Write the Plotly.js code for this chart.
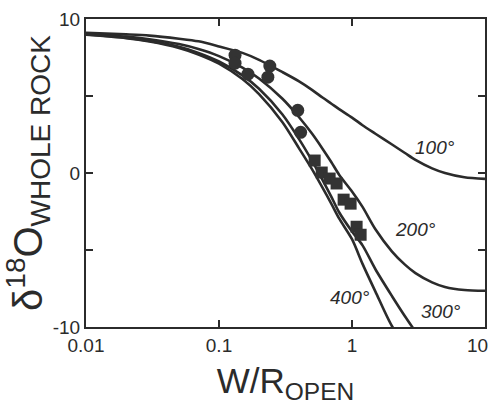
<!DOCTYPE html>
<html><head><meta charset="utf-8">
<script src="https://cdn.plot.ly/plotly-3.0.1.min.js"></script>
<style>html,body{margin:0;padding:0;background:#fff;}#chart{width:492px;height:405px;}</style>
</head><body><div id="chart"></div>
<script>
// W/R (open system) sample positions
const wr   = [0.01,0.02,0.03,0.05,0.07,0.1,0.15,0.2,0.3,0.4,0.5,0.6,0.7,0.8,1,1.2,1.5,2,2.5,3,4,5,7,10];
// delta18O whole rock curves at each temperature
const d100 = [9.10,9.00,8.92,8.72,8.55,8.22,7.80,7.35,6.55,5.95,5.40,4.90,4.50,4.15,3.60,3.10,2.55,1.85,1.30,0.85,0.30,0.00,-0.28,-0.38];
const d200 = [9.03,8.86,8.69,8.37,8.05,7.59,6.85,6.14,4.82,3.62,2.56,1.58,0.70,-0.11,-1.20,-2.20,-3.65,-5.10,-5.95,-6.50,-7.10,-7.40,-7.60,-7.65];
const d300 = [8.99,8.79,8.58,8.19,7.80,7.24,6.34,5.47,3.80,2.20,0.80,-0.45,-1.55,-2.55,-3.80,-4.70,-6.25,-8.00,-9.30,-10.3];
const d400 = [8.98,8.76,8.54,8.12,7.70,7.10,6.10,5.12,3.30,1.60,0.25,-0.95,-2.00,-2.95,-4.30,-5.90,-7.70,-9.95,-11.1];
// measured samples
const circleX = [0.132,0.132,0.165,0.241,0.233,0.391,0.411];
const circleY = [7.65,7.13,6.42,6.94,6.22,4.07,2.64];
const squareX = [0.524,0.592,0.679,0.766,0.865,0.976,1.083,1.161];
const squareY = [0.81,0.03,-0.36,-0.68,-1.73,-1.99,-3.49,-4.01];
const curveNames = ['100°','200°','300°','400°'];
const xTickVals = [0.01,0.1,1];
const xTickText = ['0.01','0.1','1'];
const xEndLabel = '10';
const yTickVals = [-10,0,10];
const yTickText = ['-10','0','10'];
const yMinorVals = [-5,5];

const ink = '#2b2b2b';
const curves = [d100,d200,d300,d400];
const traces = curves.map((d,i)=>({
  x: wr.slice(0,d.length), y: d, type:'scatter', mode:'lines', name: curveNames[i],
  line:{color:ink,width:2.6,shape:'spline',smoothing:0.8}, hoverinfo:'skip'
}));
traces.push({x:circleX,y:circleY,type:'scatter',mode:'markers',name:'circles',
  marker:{symbol:'circle',size:13,color:'#333'}});
traces.push({x:squareX,y:squareY,type:'scatter',mode:'markers',name:'squares',
  marker:{symbol:'square',size:12,color:'#333'}});

const labelPos = [[0.875,0.584],[0.827,0.315],[0.890,0.049],[0.662,0.097]];
const annotations = curveNames.map((t,i)=>({
  text:'<i>'+t+'</i>', xref:'paper', yref:'paper', x:labelPos[i][0], y:labelPos[i][1],
  showarrow:false, font:{family:'Liberation Sans, Arial, sans-serif', size:19, color:ink},
  xanchor:'center', yanchor:'middle'
}));
// end label of the x axis, kept inside the page
annotations.push({text:xEndLabel, xref:'paper', yref:'paper', x:1.0, y:-0.02,
  xanchor:'right', yanchor:'top', xshift:5, showarrow:false,
  font:{family:'Liberation Sans, Arial, sans-serif', size:19, color:ink}});

const layout = {
  width:492, height:405,
  margin:{l:86,r:7,t:19,b:78},
  paper_bgcolor:'#fff', plot_bgcolor:'#fff',
  showlegend:false,
  font:{family:'Liberation Sans, Arial, sans-serif', color:ink},
  xaxis:{type:'log', range:[-2,1], tickvals:xTickVals, ticktext:xTickText,
    ticks:'inside', ticklen:7, tickwidth:2, tickcolor:ink,
    showline:true, linewidth:2, linecolor:ink, mirror:'ticks',
    showgrid:false, zeroline:false, tickfont:{size:19,color:ink},
    title:{text:'W/R<sub>OPEN</sub>', font:{size:35,color:ink}, standoff:19}},
  yaxis:{range:[-10,10], tickvals:yTickVals, ticktext:yTickText,
    ticks:'inside', ticklen:7, tickwidth:2, tickcolor:ink,
    minor:{tickvals:yMinorVals, ticks:'inside', ticklen:7, tickwidth:2, tickcolor:ink, showgrid:false},
    showline:true, linewidth:2, linecolor:ink, mirror:'ticks',
    showgrid:false, zeroline:false, tickfont:{size:19,color:ink},
    title:{text:'δ<sup>18</sup>O<sub>WHOLE ROCK</sub>', font:{size:40,color:ink}, standoff:3}},
  annotations: annotations
};
Plotly.newPlot('chart', traces, layout, {staticPlot:true});
</script></body></html>
